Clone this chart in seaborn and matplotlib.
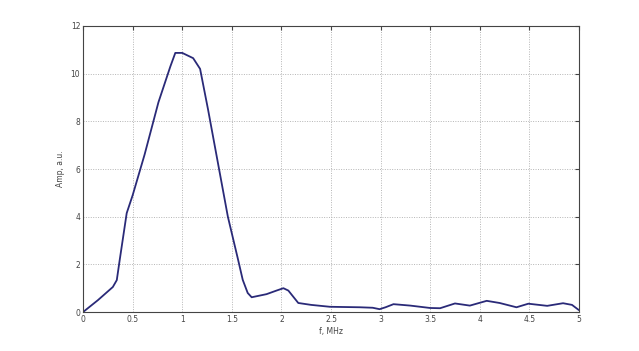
import matplotlib
matplotlib.use("Agg")
import matplotlib.pyplot as plt
import seaborn as sns
import pandas as pd

freq_mhz = [0.0, 0.15, 0.30, 0.34, 0.37, 0.44, 0.50, 0.62, 0.76, 0.88, 0.93, 1.00, 1.11,
            1.18, 1.26, 1.38, 1.46, 1.56, 1.61, 1.66, 1.70, 1.85, 1.95, 2.02, 2.07, 2.17,
            2.30, 2.49, 2.79, 2.92, 2.99, 3.05, 3.13, 3.30, 3.50, 3.60, 3.75, 3.90,
            4.07, 4.20, 4.37, 4.49, 4.68, 4.84, 4.93, 5.0]
amp = [0.0, 0.5, 1.05, 1.34, 2.2, 4.15, 4.9, 6.6, 8.8, 10.3, 10.87, 10.87, 10.65,
       10.2, 8.5, 5.8, 4.0, 2.25, 1.35, 0.8, 0.62, 0.75, 0.9, 1.0, 0.9, 0.38,
       0.3, 0.22, 0.2, 0.18, 0.12, 0.2, 0.33, 0.27, 0.17, 0.16, 0.36, 0.27,
       0.47, 0.38, 0.2, 0.35, 0.26, 0.37, 0.3, 0.08]

x_ticks = [0, 0.5, 1, 1.5, 2, 2.5, 3, 3.5, 4, 4.5, 5]
x_tick_labels = ["0", "0.5", "1", "1.5", "2", "2.5", "3", "3.5", "4", "4.5", "5"]
y_ticks = [0, 2, 4, 6, 8, 10, 12]

df = pd.DataFrame({"f": freq_mhz, "amp": amp})

sns.set_style("white")
plt.rcParams['font.family'] = ['DejaVu Sans']

fig = plt.figure(figsize=(6.39, 3.51), dpi=100)
ax = fig.add_axes([0.130, 0.111, 0.776, 0.815])
sns.lineplot(data=df, x="f", y="amp", ax=ax, color="#2a2a78", linewidth=1.3)

ax.set_xlim(0, 5)
ax.set_ylim(0, 12)
ax.set_xticks(x_ticks)
ax.set_xticklabels(x_tick_labels)
ax.set_yticks(y_ticks)
ax.grid(True, linestyle=(0, (1, 1.5)), color="#b5b5b5", linewidth=0.7)
ax.tick_params(direction="in", length=3, labelsize=5.5, colors="#444444",
               top=True, right=True, pad=2)
for s in ax.spines.values():
    s.set_visible(True)
    s.set_color("#444444")
    s.set_linewidth(0.8)
ax.set_xlabel("f, MHz", fontsize=5.5, color="#444444", labelpad=2)
ax.set_ylabel("Amp, a.u.", fontsize=5.5, color="#444444", labelpad=4)

fig.savefig("out.png", dpi=100)
